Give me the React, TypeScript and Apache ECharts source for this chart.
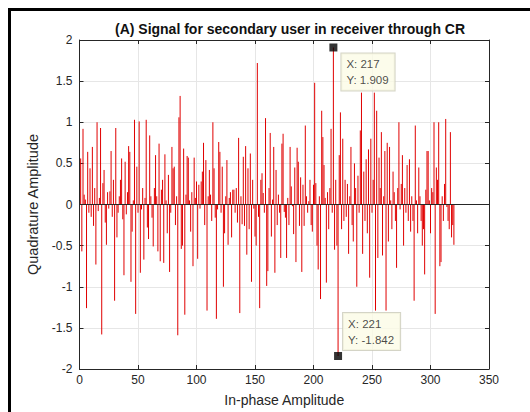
import React, { useEffect, useRef } from "react";
import * as echarts from "echarts";

const titleText = "(A) Signal for secondary user in receiver through CR";
const xAxisName = "In-phase Amplitude";
const yAxisName = "Quadrature Amplitude";

// Quadrature amplitude for samples 1..320
const signalValues: number[] = [
  0.56, -0.57, 0.92, 0.12, 0.06, -1.26, 0.64, -0.1, 0.44, -0.15,
  0.7, -0.26, 0.2, -0.73, 1.0, -0.08, 0.08, 0.93, -1.58, 0.26,
  0.42, -0.22, -0.49, 0.15, -0.05, 0.16, 0.65, -0.15, 0.3, -1.17,
  0.93, -0.4, -0.1, 0.1, 0.3, 0.56, -0.18, -0.86, 0.52, -0.12,
  0.15, 0.71, 0.64, -0.94, -0.33, 0.05, 1.03, -1.33, 0.46, -0.1,
  1.01, -0.83, -0.06, 0.2, -0.67, 0.08, 1.03, -0.28, -0.42, 0.84,
  0.1, -0.16, -0.51, 0.2, 0.6, 0.1, -0.57, 0.74, -0.69, 0.18,
  0.3, -0.71, 0.61, 0.05, -0.35, 0.36, -0.82, -0.1, 0.7, 0.44,
  0.46, -0.25, 0.1, -1.59, 1.06, 1.32, -0.54, -0.5, 0.68, -1.34,
  0.12, 0.59, 0.57, 0.05, -0.33, 0.15, -0.75, 0.57, 0.08, 0.28,
  -0.66, 0.24, -0.05, 0.28, 0.4, 0.75, -0.25, 0.54, -1.29, 0.1,
  0.42, 0.12, -0.2, 1.0, 0.44, -0.16, -1.39, -0.06, 0.76, 0.64,
  -0.1, 0.46, -1.0, -0.35, 0.1, 0.54, -0.49, 0.08, 0.15, -0.4,
  0.18, 0.18, -0.1, 0.2, -0.22, 0.81, -1.32, 0.1, -0.24, 0.58,
  -0.26, 0.71, -0.61, 0.44, -0.3, 0.62, -0.94, 0.3, -0.05, -0.39,
  -0.5, 1.72, -0.15, -1.26, 0.3, 0.38, 0.14, -0.1, 1.05, -0.99,
  -0.81, 0.2, 0.87, -0.39, 0.06, 0.7, -0.83, 0.42, -0.25, 0.12,
  -0.1, -0.65, 0.74, 0.86, -0.09, -0.16, -0.65, 0.08, -0.25, 0.7,
  0.22, -0.02, -0.36, 0.45, -0.7, 0.69, 0.52, -0.26, 0.33, -0.82,
  0.24, -0.26, 0.96, 0.1, -0.1, 0.04, 0.3, -0.25, -0.33, 0.24,
  1.48, 0.26, -0.5, -0.79, 0.1, -1.15, 1.14, 0.82, 0.48, 0.08,
  -0.95, 0.15, -0.3, 0.2, 0.92, -0.1, 1.909, -0.55, 0.3, -0.5,
  -1.842, 0.6, 1.12, -0.3, 0.8, -0.2, 0.3, -0.15, 0.25, -0.6,
  0.1, 0.7, -0.25, -0.45, 0.5, 0.2, -1.0, 0.35, -0.1, 0.9,
  1.36, -0.6, 0.4, -0.2, 0.55, -0.35, 0.67, -0.89, 0.8, -0.1,
  0.3, 1.36, -1.29, 1.14, -0.65, 0.57, 0.2, 0.88, -0.62, 0.1,
  0.65, -1.29, 0.75, -0.45, 0.7, 0.05, -0.3, 0.4, 0.15, -0.2,
  -0.77, 0.2, 1.0, -0.06, 0.25, 0.6, -0.5, 0.2, -0.1, 0.48,
  -0.2, 0.55, -0.33, 0.1, -0.2, -1.17, 0.96, 0.05, -0.35, 0.45,
  0.1, -0.2, -0.5, -0.3, -0.85, 0.18, 0.65, 0.65, 0.05, -0.35,
  0.2, 0.15, 1.0, -1.33, 0.45, 0.3, 1.0, -0.75, -0.7, 0.1,
  -0.2, 0.25, 1.04, -0.03, -0.2, -0.3, 0.88, -0.4, -0.25, -0.49,
];

// Data tips
const tipX = [217, 221];
const tipY = [1.909, -1.842];

const xMin = 0, xMax = 350, xStep = 50;
const yMin = -2, yMax = 2, yStep = 0.5;

const FONT = "'Liberation Sans', Arial, Helvetica, sans-serif";
const AX = "#262626";

export default function App() {
  const ref = useRef<HTMLDivElement>(null);
  useEffect(() => {
    if (!ref.current) return;
    const chart = echarts.init(ref.current, undefined, { renderer: "svg" });
    const stemData = signalValues.map((v, i) => [i + 1, v]);
    const tipData = tipX.map((x, i) => ({
      value: [x, tipY[i]],
      label: {
        show: true,
        position: i === 0 ? [12, 10] : [9, -39],
        formatter: `X: ${x}\nY: ${tipY[i]}`,
        color: "#1a1a1a",
        fontFamily: FONT,
        fontSize: 11.5,
        lineHeight: 16,
        align: "left",
        verticalAlign: "top",
        backgroundColor: "#fbfbe6",
        borderColor: "#c9c9b8",
        borderWidth: 1,
        padding: [3, 6, 2, 5],
      },
    }));
    const baseAxisLabel = { color: AX, fontFamily: FONT, fontSize: 12 };
    chart.setOption({
      animation: false,
      backgroundColor: "#ffffff",
      title: {
        text: titleText,
        left: 285,
        textAlign: "center",
        top: 17,
        textStyle: { fontFamily: FONT, fontSize: 14, fontWeight: "bold", color: "#111" },
      },
      grid: { left: 79.5, right: 41, top: 40, bottom: 40 },
      xAxis: [
        {
          type: "value",
          min: xMin,
          max: xMax,
          interval: xStep,
          position: "bottom",
          name: xAxisName,
          nameLocation: "middle",
          nameGap: 24,
          nameTextStyle: { color: AX, fontFamily: FONT, fontSize: 14 },
          axisLine: { show: true, onZero: false, lineStyle: { color: AX, width: 1 } },
          axisTick: { show: true, inside: true, length: 4, lineStyle: { color: AX } },
          axisLabel: { ...baseAxisLabel, margin: 5 },
          splitLine: { show: true, lineStyle: { color: "#e6e6e6", width: 1 } },
        },
        {
          type: "value",
          min: xMin,
          max: xMax,
          interval: xStep,
          position: "top",
          axisLine: { show: true, onZero: false, lineStyle: { color: AX, width: 1 } },
          axisTick: { show: true, inside: true, length: 4, lineStyle: { color: AX } },
          axisLabel: { show: false },
          splitLine: { show: false },
        },
      ],
      yAxis: [
        {
          type: "value",
          min: yMin,
          max: yMax,
          interval: yStep,
          position: "left",
          name: yAxisName,
          nameLocation: "middle",
          nameGap: 30,
          nameTextStyle: { color: AX, fontFamily: FONT, fontSize: 14.5 },
          axisLine: { show: true, onZero: false, lineStyle: { color: AX, width: 1 } },
          axisTick: { show: true, inside: true, length: 4, lineStyle: { color: AX } },
          axisLabel: { ...baseAxisLabel, margin: 7 },
          splitLine: { show: true, lineStyle: { color: "#e6e6e6", width: 1 } },
        },
        {
          type: "value",
          min: yMin,
          max: yMax,
          interval: yStep,
          position: "right",
          axisLine: { show: true, onZero: false, lineStyle: { color: AX, width: 1 } },
          axisTick: { show: true, inside: true, length: 4, lineStyle: { color: AX } },
          axisLabel: { show: false },
          splitLine: { show: false },
        },
      ],
      series: [
        {
          type: "custom",
          xAxisIndex: 0,
          yAxisIndex: 0,
          data: stemData,
          z: 2,
          renderItem: (params: any, api: any) => {
            const x = api.value(0);
            const y = api.value(1);
            const p0 = api.coord([x, 0]);
            const p1 = api.coord([x, y]);
            return {
              type: "line",
              shape: { x1: p0[0], y1: p0[1], x2: p1[0], y2: p1[1] },
              style: { stroke: "#e00000", lineWidth: 1 },
            };
          },
        },
        {
          type: "scatter",
          xAxisIndex: 0,
          yAxisIndex: 0,
          data: tipData,
          symbol: "rect",
          symbolSize: 8,
          itemStyle: { color: "#000" },
          z: 5,
          markLine: {
            silent: true,
            symbol: ["none", "none"],
            label: { show: false },
            lineStyle: { color: AX, width: 1, type: "solid" },
            data: [{ yAxis: 0 }],
          },
        },
      ],
      graphic: [
        {
          type: "rect",
          shape: { x: 9.5, y: 9.5, width: 560, height: 440 },
          style: { fill: "none", stroke: "#000", lineWidth: 3 },
          silent: true,
        },
      ],
    });
    return () => chart.dispose();
  }, []);
  return (
    <div
      ref={ref}
      style={{ position: "fixed", left: 0, top: 0, width: 530, height: 412, background: "#fff" }}
    />
  );
}
